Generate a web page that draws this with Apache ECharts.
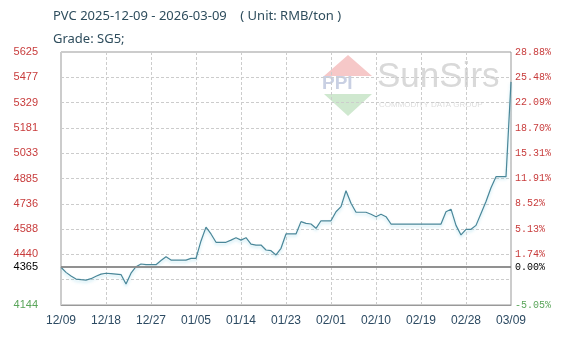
<!DOCTYPE html>
<html><head><meta charset="utf-8">
<script src="https://cdn.jsdelivr.net/npm/echarts@6/dist/echarts.min.js"></script>
<style>html,body{margin:0;padding:0;background:#fff}#c{width:580px;height:345px}</style>
</head><body><div id="c"></div>
<script>
const titleText = 'PVC 2025-12-09 - 2026-03-09    ( Unit: RMB/ton )';
const gradeText = 'Grade: SG5;';
const dates = ['12/09','12/10','12/11','12/12','12/13','12/14','12/15','12/16','12/17','12/18','12/19','12/20','12/21','12/22','12/23','12/24','12/25','12/26','12/27','12/28','12/29','12/30','12/31',
'01/01','01/02','01/03','01/04','01/05','01/06','01/07','01/08','01/09','01/10','01/11','01/12','01/13','01/14','01/15','01/16','01/17','01/18','01/19','01/20','01/21','01/22','01/23','01/24','01/25','01/26','01/27','01/28','01/29','01/30','01/31',
'02/01','02/02','02/03','02/04','02/05','02/06','02/07','02/08','02/09','02/10','02/11','02/12','02/13','02/14','02/15','02/16','02/17','02/18','02/19','02/20','02/21','02/22','02/23','02/24','02/25','02/26','02/27','02/28',
'03/01','03/02','03/03','03/04','03/05','03/06','03/07','03/08','03/09'];
const prices = [4365,4335,4314,4296,4292,4290,4298,4312,4325,4330,4328,4325,4322,4267,4330,4368,4384,4380,4380,4380,
4404,4427,4407,4407,4407,4407,4417,4417,4519,4600,4560,4511,4511,4511,4524,4538,4524,4538,4500,4495,
4495,4466,4462,4437,4476,4560,4560,4560,4632,4622,4618,4593,4637,4637,4637,4690,4720,4813,4740,4687,
4687,4687,4675,4661,4675,4661,4618,4618,4618,4618,4618,4618,4618,4618,4618,4618,4618,
4690,4705,4610,4554,4587,4587,4610,4680,4750,4830,4895,4895,4895,5450];
const baseValue = 4365;
const baseLabelLeft = '4365';
const baseLabelRight = '0.00%';
const yMin = 4144, yMax = 5625, yStep = 148.1;
const leftLabels = ['4144','','4440','4588','4736','4885','5033','5181','5329','5477','5625'];
const rightLabels = ['-5.05%','','1.74%','5.13%','8.52%','11.91%','15.31%','18.70%','22.09%','25.48%','28.88%'];

const chart = echarts.init(document.getElementById('c'));
const red = '#c83c3c', green = '#5aa55a';
const yAxisCommon = {
  type: 'value', min: yMin, max: yMax, interval: yStep,
  axisLine: {show: false}, axisTick: {show: false},
  splitLine: {show: true, lineStyle: {color: '#cccccc', type: [3, 2], width: 1}}
};
chart.setOption({
  animation: false,
  title: {
    text: titleText + '\n' + gradeText, left: 53, top: 5, padding: 0,
    textStyle: {fontFamily: 'Noto Sans', fontSize: 13, fontWeight: 'normal', color: '#2e4d5d', lineHeight: 23}
  },
  graphic: [
    {type: 'polygon', shape: {points: [[348,55],[372,76],[324,76]]}, style: {fill: '#f6c8c8'}, silent: true},
    {type: 'polygon', shape: {points: [[324,94],[372,94],[348,116]]}, style: {fill: '#cfe8cf'}, silent: true},
    {type: 'text', left: 322, top: 74, style: {text: 'PPI', fontFamily: 'Liberation Sans', fontSize: 19, fontWeight: 'bold', fill: '#c9d0e3'}, silent: true},
    {type: 'text', left: 377, top: 60, style: {text: 'SunSirs', fontFamily: 'Liberation Sans', fontSize: 35, fill: '#d9d9d9'}, silent: true},
    {type: 'text', left: 379, top: 101, style: {text: 'COMMODITY DATA GROUP', fontFamily: 'Liberation Sans', fontSize: 8, fill: '#dedede'}, silent: true}
  ],
  grid: {left: 61, right: 69, top: 52, bottom: 40, show: true, borderColor: '#999', borderWidth: 1, backgroundColor: 'transparent'},
  xAxis: {
    type: 'category', data: dates, boundaryGap: false,
    axisLine: {show: true, lineStyle: {color: '#999'}}, axisTick: {show: false},
    axisLabel: {interval: 8, margin: 10, color: '#2c4a62', fontFamily: 'Liberation Sans', fontSize: 12},
    splitLine: {show: true, interval: 8, lineStyle: {color: '#cccccc', type: [3, 2], width: 1}}
  },
  yAxis: [
    Object.assign({}, yAxisCommon, {
      position: 'left',
      axisLabel: {margin: 23, fontFamily: 'Liberation Sans', fontSize: 11,
        formatter: (v, i) => leftLabels[i] || '',
        color: (v, i) => (i === 0 ? green : red)}
    }),
    Object.assign({}, yAxisCommon, {
      position: 'right', splitLine: {show: false},
      axisLabel: {margin: 4, fontFamily: 'Liberation Mono', fontSize: 10,
        formatter: (v, i) => rightLabels[i] || '',
        color: (v, i) => (i === 0 ? green : red)}
    })
  ],
  series: [{
    type: 'line', data: prices, yAxisIndex: 0, symbol: 'none', smooth: false,
    lineStyle: {color: '#4a8799', width: 1.2, shadowColor: 'rgba(110,200,225,0.45)', shadowBlur: 3, shadowOffsetY: 2},
    markLine: {
      silent: true, symbol: 'none', animation: false,
      lineStyle: {color: '#8a8a8a', type: 'solid', width: 1.5},
      data: [
        {yAxis: baseValue, label: {show: true, position: 'start', distance: 23, formatter: baseLabelLeft, color: '#000', fontFamily: 'Liberation Sans', fontSize: 11}},
        {yAxis: baseValue, label: {show: true, position: 'end', distance: 4, formatter: baseLabelRight, color: '#000', fontFamily: 'Liberation Mono', fontSize: 10}}
      ]
    }
  }]
});
</script></body></html>
